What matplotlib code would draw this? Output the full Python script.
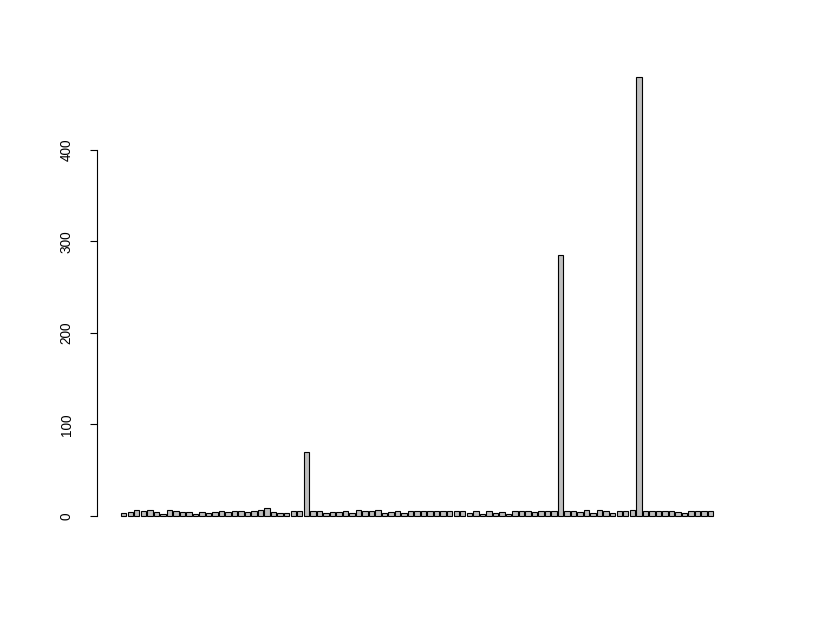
import numpy as np
import matplotlib
matplotlib.use("Agg")
import matplotlib.pyplot as plt

values = [3, 4, 7, 5, 7, 4, 2, 7, 5, 4, 4, 2, 4, 3, 4,
          5, 4, 6, 5, 4, 5, 7, 9, 4, 3, 3, 6, 5,
          70,
          5,
          6, 3, 4, 4, 5, 3, 7, 5, 5, 7, 3, 4, 6, 3, 6, 6, 5, 5, 5, 5, 6, 5, 5, 3, 5, 2, 5, 3, 4, 2, 6, 6,
          5, 4, 5, 6, 6,
          285,
          6, 5, 4, 7, 3, 7, 6, 3, 6, 5, 7,
          480,
          6, 5, 6, 5, 6, 4, 3, 5, 6, 5, 5]
yticks = [0, 100, 200, 300, 400]

plt.rcParams['font.family'] = ['Liberation Sans', 'DejaVu Sans']

fig = plt.figure(figsize=(8.15, 6.19), dpi=100)
ax = fig.add_axes([0.1194, 0.1380, 0.7848, 0.7664])

n = len(values)
x = 0.7 + 1.2 * np.arange(n)
ax.bar(x, values, width=1.0, color='#BEBEBE', edgecolor='black', linewidth=0.8)

lo, hi = 0.2, n * 1.2
pad = (hi - lo) * 0.04
ax.set_xlim(lo - pad, hi + pad)
ymax = max(values)
ax.set_ylim(-0.04 * ymax, ymax * 1.04)

for s in ['top', 'right', 'bottom']:
    ax.spines[s].set_visible(False)
ax.spines['left'].set_bounds(0, 400)
ax.spines['left'].set_linewidth(0.8)
ax.set_xticks([])
ax.set_yticks(yticks)
ax.set_yticklabels([str(v) for v in yticks], rotation=90, va='center', fontsize=9.8)
ax.tick_params(axis='y', length=5, width=0.8, pad=12)

fig.savefig('out.png', dpi=100)
